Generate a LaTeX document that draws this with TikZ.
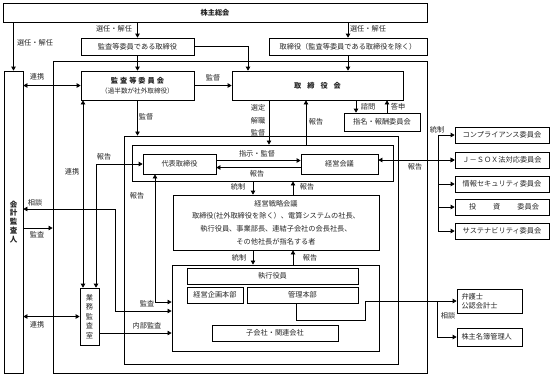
\documentclass[tikz,border=0pt]{standalone}
\usepackage{fontspec}
\setmainfont{Noto Sans CJK JP}
\usetikzlibrary{arrows.meta,calc}
\newcommand{\myfs}{\fontsize{7.2}{8.6}\selectfont}
\colorlet{txt}{black!85}
\begin{document}
\begin{tikzpicture}[x=1pt,y=-1pt,
 box/.style={draw,line width=0.75pt,inner sep=0pt,font=\myfs,text=txt},
 region/.style={draw,line width=0.9pt,inner sep=0pt},
 lab/.style={font=\myfs,text=txt,inner sep=0pt},
 tip/.tip={Triangle[length=4pt,width=4.5pt]},
 arr/.style={line width=0.75pt,-tip},
 arrb/.style={line width=0.75pt,tip-tip},
 ln/.style={line width=0.75pt}]
\useasboundingbox (0,0) rectangle (556,376);
\fill[white] (0,0) rectangle (556,376);

% regions
\node[region,minimum width=374,minimum height=312] (outer) at (240,217) {};
\node[region,minimum width=274,minimum height=228] (box2) at (261,250) {};
\node[region,minimum width=261,minimum height=36] (box3) at (262.5,163) {};
\node[region,minimum width=207,minimum height=86] (box4) at (275.5,308) {};

% boxes
\node[box,minimum width=424,minimum height=19] (kabu) at (215,12.5) {\textbf{株主総会}};
\node[box,minimum width=113,minimum height=17] (kansayaku) at (137.5,46.5) {監査等委員である取締役};
\node[box,minimum width=158,minimum height=17] (torishimari) at (348,46.5) {取締役（監査等委員である取締役を除く）};
\node[box,minimum width=113,minimum height=29,align=center,font={\fontsize{7.2}{9.5}\selectfont\lineskiplimit=-20pt}] (kiin) at (137.5,85.5)
  {\textbf{監\hspace{2pt}査\hspace{2pt}等\hspace{2pt}委\hspace{2pt}員\hspace{2pt}会}\\{\fontsize{6.6}{9.5}\selectfont （過半数が社外取締役）}};
\node[box,minimum width=171,minimum height=29] (board) at (317.5,85.5)
  {\textbf{取\hspace{6pt}締\hspace{6pt}役\hspace{6pt}会}};
\node[box,minimum width=76,minimum height=18] (shimei) at (382,122) {指名・報酬委員会};
\node[box,minimum width=19,minimum height=302,align=center,font={\fontsize{7.5}{8.9}\selectfont\bfseries\lineskiplimit=-20pt}] (kaikei) at (13.5,222)
  {会\\計\\監\\査\\人};
\node[box,minimum width=73,minimum height=20] (daihyo) at (179.5,164) {代表取締役};
\node[box,minimum width=77,minimum height=20] (keiei) at (339.5,164) {経営会議};
\node[box,minimum width=206,minimum height=55,align=center,font={\fontsize{7.2}{12.6}\selectfont\lineskiplimit=-20pt}] (senryaku) at (276,222.5)
  {経営戦略会議\\取締役(社外取締役を除く）、電算システムの社長、\\執行役員、事業部長、連結子会社の会長社長、\\その他社長が指名する者};
\node[box,minimum width=171,minimum height=16] (shikko) at (272.5,276) {執行役員};
\node[box,minimum width=56,minimum height=16] (kikaku) at (215,295) {経営企画本部};
\node[box,minimum width=111,minimum height=16] (kanri) at (302.5,295) {管理本部};
\node[box,minimum width=126,minimum height=16] (kogaisha) at (275,333) {子会社・関連会社};
\node[box,minimum width=19,minimum height=57,align=center,font={\fontsize{7.2}{9.5}\selectfont\lineskiplimit=-20pt}] (gyomu) at (89.5,316.5)
  {業\\務\\監\\査\\室};
\node[box,minimum width=94,minimum height=16] (comp) at (502,135) {コンプライアンス委員会};
\node[box,minimum width=94,minimum height=16] (jsox) at (502,160) {Ｊ－ＳＯＸ法対応委員会};
\node[box,minimum width=94,minimum height=16] (info) at (502,184) {情報セキュリティ委員会};
\node[box,minimum width=94,minimum height=16] (inv) at (502,207) {\hspace{4pt}投\hspace{17pt}資\hspace{17pt}委員会};
\node[box,minimum width=94,minimum height=16] (sus) at (502,231) {サステナビリティ委員会};
\node[box,text width=56pt,inner xsep=4.5pt,minimum height=24,align=left,font={\fontsize{7.2}{8.8}\selectfont\lineskiplimit=-20pt}] (bengoshi) at (489.5,301) {弁護士\\公認会計士};
\node[box,text width=56pt,inner xsep=4.5pt,minimum height=18,align=left] (kabunushi) at (489.5,337) {株主名簿管理人};

% connectors
\draw[arr] (kaikei.north |- kabu.south) -- (kaikei.north);
\draw[arr] (kansayaku.north |- kabu.south) -- (kansayaku.north);
\draw[arr] (torishimari.north |- kabu.south) -- (torishimari.north);
\draw[arr] (kansayaku.south) -- (kiin.north);
\draw[arr] (torishimari.south) -- (torishimari.south |- board.north);
\coordinate (c1) at (248,0);
\draw[arr] (kansayaku.east) -| (c1 |- board.north);
\draw[arrb] (kaikei.east |- kiin.west) -- (kiin.west);
\draw[arr] (kiin.east) -- (board.west);
\draw[arr] (kiin.south) -- (kiin.south |- box2.north);
\coordinate (c2) at (269,0);
\draw[arr] (c2 |- board.south) -- (c2 |- box3.north);
\coordinate (c3) at (306,0);
\draw[arr] (c3 |- box3.north) -- (c3 |- board.south);
\coordinate (c4) at (356,0);
\draw[arr] (c4 |- board.south) -- (c4 |- shimei.north);
\coordinate (c5) at (387,0);
\draw[arr] (c5 |- shimei.north) -- (c5 |- board.south);
\coordinate (r1) at (0,160.5);
\coordinate (r2) at (0,167.5);
\draw[arr] (daihyo.east |- r1) -- (keiei.west |- r1);
\draw[arr] (keiei.west |- r2) -- (daihyo.east |- r2);
\draw[arrb] (keiei.east |- jsox.west) -- (jsox.west);
\coordinate (b0) at (438,0);
\draw[ln] (b0 |- comp.west) -- (b0 |- sus.west);
\foreach \n in {comp,jsox,info,inv,sus} \draw[arr] (b0 |- \n.west) -- (\n.west);
\coordinate (c6) at (253,0);
\coordinate (c7) at (293,0);
\draw[arr] (c6 |- box3.south) -- (c6 |- senryaku.north);
\draw[arr] (c7 |- senryaku.north) -- (c7 |- box3.south);
\draw[arr] (c6 |- senryaku.south) -- (c6 |- box4.north);
\draw[arr] (c7 |- box4.north) -- (c7 |- senryaku.south);
\coordinate (s1) at (115,209);
\coordinate (s2) at (115,311);
\draw[arrb] (kaikei.east |- s1) -- (s1) -- (s2) -- (box4.west |- s2);
\coordinate (s3) at (0,228);
\draw[arr] (kaikei.east |- s3) -- (outer.west |- s3);
\draw[arrb] (kaikei.east |- gyomu.west) -- (gyomu.west);
\coordinate (s4) at (83,0);
\draw[arrb] (s4 |- kiin.south) -- (s4 |- gyomu.north);
\coordinate (s5) at (96,0);
\draw[arrb] (daihyo.west) -| (s5 |- gyomu.north);
\coordinate (s6) at (0,333);
\draw[arr] (gyomu.east |- s6) -- (box4.west |- s6);
\coordinate (s7) at (155,302);
\draw[arrb] (box4.west |- s7) -- (s7) -- (s7 |- daihyo.south);
\coordinate (k1) at (296,320);
\coordinate (k2) at (365,320);
\draw[arr] (kanri.south -| k1) -- (k1) -- (k2) |- (bengoshi.west);
\coordinate (k3) at (437,0);
\draw[arr] (k3 |- bengoshi.west) |- (kabunushi.west);

% labels
\node[lab] at (35,43) {選任・解任};
\node[lab] at (114,29) {選任・解任};
\node[lab] at (368,29) {選任・解任};
\node[lab] at (37,77) {連携};
\node[lab] at (213,78) {監督};
\node[lab] at (146,117) {監督};
\node[lab] at (258,108) {選定};
\node[lab] at (258,121) {解職};
\node[lab] at (258,133) {監督};
\node[lab] at (316,122) {報告};
\node[lab] at (368,107) {諮問};
\node[lab] at (398,107) {答申};
\node[lab] at (257,154) {指示・監督};
\node[lab] at (257,174) {報告};
\node[lab] at (415,167) {報告};
\node[lab] at (437,130) {統制};
\node[lab] at (238,187) {統制};
\node[lab] at (307,187) {報告};
\node[lab] at (239,258) {統制};
\node[lab] at (310,258) {報告};
\node[lab] at (104,157) {報告};
\node[lab] at (72,172) {連携};
\node[lab] at (137,196) {報告};
\node[lab] at (35,203) {相談};
\node[lab] at (37,235) {監査};
\node[lab] at (37,325) {連携};
\node[lab] at (147,304) {監査};
\node[lab] at (147,326) {内部監査};
\node[lab] at (448,316) {相談};
\end{tikzpicture}
\end{document}
